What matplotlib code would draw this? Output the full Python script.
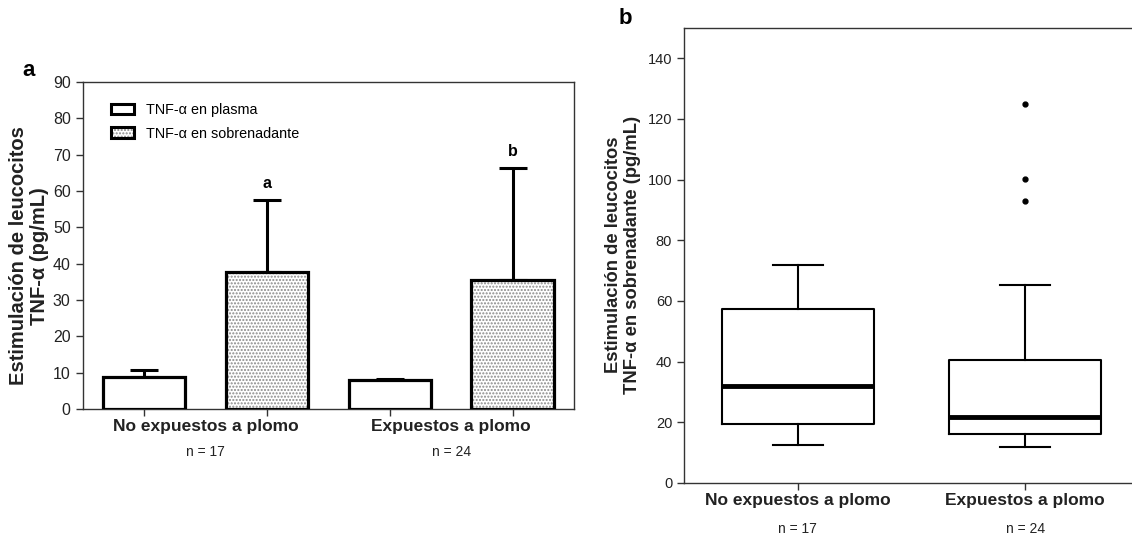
import numpy as np
import matplotlib.pyplot as plt
from matplotlib.patches import Patch
from matplotlib.legend_handler import HandlerTuple

plt.rcParams['font.family'] = ['Liberation Sans', 'DejaVu Sans']
plt.rcParams['hatch.linewidth'] = 1.0

# panel a data (mean + upper error)
groups = ['No expuestos a plomo', 'Expuestos a plomo']
n_labels = ['n = 17', 'n = 24']
plasma = [8.7, 8.0]
plasma_err = [2.0, 0.3]
sobren = [37.6, 35.5]
sobren_err = [20.0, 30.8]
letters = ['a', 'b']
letter_y = [62, 71]

# panel b data (box stats)
q1 = [19.4, 16.0]
med = [31.9, 21.6]
q3 = [57.3, 40.4]
wlo = [12.4, 11.8]
whi = [71.9, 65.2]
fliers = [[], [124.8, 100.3, 92.9]]

W, H = 1132, 537
fig = plt.figure(figsize=(W / 100, H / 100), dpi=100)

def px_axes(l, t, r, b):
    return fig.add_axes([l / W, 1 - b / H, (r - l) / W, (b - t) / H])

tick_col = '#333333'

# ---------------- panel a ----------------
ax = px_axes(82.5, 82, 574, 409)
pos_p = np.array([0, 2])
pos_s = np.array([1, 3])
bw = 0.67
ax.bar(pos_p, plasma, bw, color='white', edgecolor='black', linewidth=2.3, zorder=3)
ax.errorbar(pos_p, plasma, yerr=[[0, 0], plasma_err], fmt='none', ecolor='black',
            elinewidth=2.2, capsize=10, capthick=2.2, zorder=2)
ax.bar(pos_s, sobren, bw, color='white', edgecolor='#8a8a8a', hatch='.....', linewidth=0, zorder=3)
ax.bar(pos_s, sobren, bw, color='none', edgecolor='black', linewidth=2.3, zorder=4)
ax.errorbar(pos_s, sobren, yerr=[[0, 0], sobren_err], fmt='none', ecolor='black',
            elinewidth=2.2, capsize=10, capthick=2.2, zorder=2)
for x, t, y in zip(pos_s, letters, letter_y):
    ax.text(x, y, t, ha='center', va='center', fontsize=11.5, fontweight='bold')

ax.set_xlim(-0.5, 3.5)
ax.set_ylim(0, 90)
ax.set_yticks(np.arange(0, 91, 10))
ax.set_xticks([0, 1, 2, 3])
ax.set_xticklabels([])
ax.tick_params(axis='both', direction='out', length=5, width=1, colors=tick_col,
               labelsize=11.5, labelcolor='#222222')
for s in ax.spines.values():
    s.set_linewidth(1)
    s.set_color('#333333')

centers = [0.5, 2.5]
for c, g, n in zip(centers, groups, n_labels):
    ax.text(c, -0.055, g, transform=ax.get_xaxis_transform(), ha='center', va='center',
            fontsize=12.5, fontweight='bold', color='#222222')
    ax.text(c, -0.131, n, transform=ax.get_xaxis_transform(), ha='center', va='center',
            fontsize=10, color='#222222')

ax.text(-0.109, 0.468, 'Estimulación de leucocitos\nTNF-α (pg/mL)', transform=ax.transAxes,
        rotation=90, ha='center', va='center', fontsize=14.5, fontweight='bold',
        linespacing=1.1, color='#222222')

h1 = Patch(facecolor='white', edgecolor='black', linewidth=2.2)
h2a = Patch(facecolor='white', edgecolor='#8a8a8a', hatch='.....', linewidth=0)
h2b = Patch(facecolor='none', edgecolor='black', linewidth=2.2)
ax.legend([h1, (h2a, h2b)], ['TNF-α en plasma', 'TNF-α en sobrenadante'],
          handler_map={tuple: HandlerTuple(ndivide=1, pad=0)},
          loc='upper left', bbox_to_anchor=(0.032, 0.975), frameon=False, fontsize=10.4,
          handlelength=1.6, handleheight=0.75, handletextpad=0.8, labelspacing=0.65)

# ---------------- panel b ----------------
bx = px_axes(684, 28, 1139, 483)
stats = []
for i in range(2):
    stats.append(dict(med=med[i], q1=q1[i], q3=q3[i], whislo=wlo[i], whishi=whi[i],
                      fliers=fliers[i]))
bx.bxp(stats, positions=[1, 2], widths=0.666, showfliers=True,
       boxprops=dict(color='black', linewidth=1.5),
       whiskerprops=dict(color='black', linewidth=1.5),
       capprops=dict(color='black', linewidth=1.5),
       medianprops=dict(color='black', linewidth=3.5),
       flierprops=dict(marker='o', markersize=3.5, markerfacecolor='black',
                       markeredgecolor='black'),
       capwidths=0.22)
bx.set_xlim(0.5, 2.5)
bx.set_ylim(0, 150)
bx.set_yticks(np.arange(0, 141, 20))
bx.set_xticks([1, 2])
bx.set_xticklabels([])
bx.tick_params(axis='both', direction='out', length=5, width=1, colors=tick_col,
               labelsize=10.5, labelcolor='#222222')
for s in bx.spines.values():
    s.set_linewidth(1)
    s.set_color('#333333')

for c, g, n in zip([1, 2], groups, n_labels):
    bx.text(c, -0.039, g, transform=bx.get_xaxis_transform(), ha='center', va='center',
            fontsize=12.5, fontweight='bold', color='#222222')
    bx.text(c, -0.101, n, transform=bx.get_xaxis_transform(), ha='center', va='center',
            fontsize=10, color='#222222')

bx.text(-0.134, 0.501, 'Estimulación de leucocitos\nTNF-α en sobrenadante (pg/mL)',
        transform=bx.transAxes, rotation=90, ha='center', va='center', fontsize=13.2,
        fontweight='bold', linespacing=1.2, color='#222222')

fig.text(29 / W, 1 - 70 / H, 'a', ha='center', va='center', fontsize=16, fontweight='bold')
fig.text(625 / W, 1 - 19 / H, 'b', ha='center', va='center', fontsize=16, fontweight='bold')

fig.savefig('out.png', dpi=100)
